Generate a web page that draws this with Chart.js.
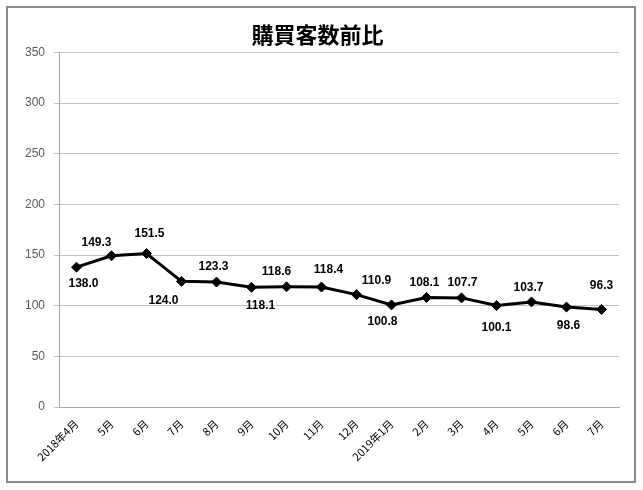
<!DOCTYPE html>
<html>
<head>
<meta charset="utf-8">
<script src="https://cdn.jsdelivr.net/npm/chart.js@4/dist/chart.umd.min.js"></script>
<style>
  body { margin: 0; background: #fff; }
  #wrap { width: 643px; height: 490px; }
</style>
</head>
<body>
<div id="wrap"><canvas id="chart" width="643" height="490"></canvas></div>
<script>
// chart data
const months = ['2018年4月', '5月', '6月', '7月', '8月', '9月', '10月', '11月', '12月',
  '2019年1月', '2月', '3月', '4月', '5月', '6月', '7月'];
const ratio = [138.0, 149.3, 151.5, 124.0, 123.3, 118.1, 118.6, 118.4, 110.9,
  100.8, 108.1, 107.7, 100.1, 103.7, 98.6, 96.3];
const yTicks = [0, 50, 100, 150, 200, 250, 300, 350];

// where each value label sits relative to its point [dx, dy]
const labelNudge = [[7, 17], [-15, -13], [3, -20], [-18, 19], [-3, -15], [9, 18], [-10, -15], [7, -17],
  [20, -14], [-9, 17], [-2, -15], [1, -15], [0, 22], [-3, -14], [2, 19], [0, -24]];

// outer frame like the spreadsheet chart box
const framePlugin = {
  id: 'frame',
  beforeDraw(chart) {
    const ctx = chart.ctx;
    ctx.save();
    ctx.fillStyle = '#fff';
    ctx.fillRect(0, 0, chart.width, chart.height);
    ctx.strokeStyle = '#8a8a8a';
    ctx.lineWidth = 2;
    ctx.strokeRect(7, 7, 628, 475);
    ctx.restore();
  }
};

// value labels above / below points
const valueLabels = {
  id: 'valueLabels',
  afterDatasetsDraw(chart) {
    const ctx = chart.ctx;
    const meta = chart.getDatasetMeta(0);
    ctx.save();
    ctx.font = 'bold 12px "Liberation Sans", Arial, sans-serif';
    ctx.fillStyle = '#000';
    ctx.textAlign = 'center';
    ctx.textBaseline = 'middle';
    meta.data.forEach((pt, i) => {
      const [dx, dy] = labelNudge[i];
      ctx.fillText(ratio[i].toFixed(1), pt.x + dx, pt.y + dy);
    });
    ctx.restore();
  }
};

new Chart(document.getElementById('chart').getContext('2d'), {
  type: 'line',
  data: {
    labels: months,
    datasets: [{
      data: ratio,
      borderColor: '#000',
      borderWidth: 3,
      pointStyle: 'rectRot',
      pointRadius: 5,
      pointBackgroundColor: '#000',
      pointBorderColor: '#000',
      pointBorderWidth: 1,
      tension: 0
    }]
  },
  options: {
    responsive: false,
    animation: false,
    layout: { padding: { left: 16, right: 24, top: 0, bottom: 0 } },
    plugins: {
      legend: { display: false },
      tooltip: { enabled: false },
      title: {
        display: true,
        text: '購買客数前比',
        color: '#000',
        font: { family: '"Noto Sans CJK JP", sans-serif', size: 22, weight: 'bold' },
        padding: { top: 21, bottom: 5 }
      }
    },
    scales: {
      x: {
        offset: true,
        grid: { display: false },
        border: { display: true, color: '#a6a6a6', width: 1 },
        ticks: {
          color: '#000',
          font: { family: '"Noto Sans CJK JP", sans-serif', size: 11 },
          minRotation: 45,
          maxRotation: 45,
          padding: 2
        },
        afterFit(scale) { scale.height = 83; }
      },
      y: {
        min: 0,
        max: 350,
        afterBuildTicks(scale) { scale.ticks = yTicks.map(v => ({ value: v })); },
        grid: { color: '#c0c0c0', lineWidth: 1, tickLength: 5 },
        border: { display: true, color: '#a6a6a6', width: 1 },
        ticks: {
          color: '#595959',
          font: { family: '"Liberation Sans", Arial, sans-serif', size: 12 },
          padding: 9
        },
        afterFit(scale) { scale.width = 43; }
      }
    }
  },
  plugins: [framePlugin, valueLabels]
});
</script>
</body>
</html>
